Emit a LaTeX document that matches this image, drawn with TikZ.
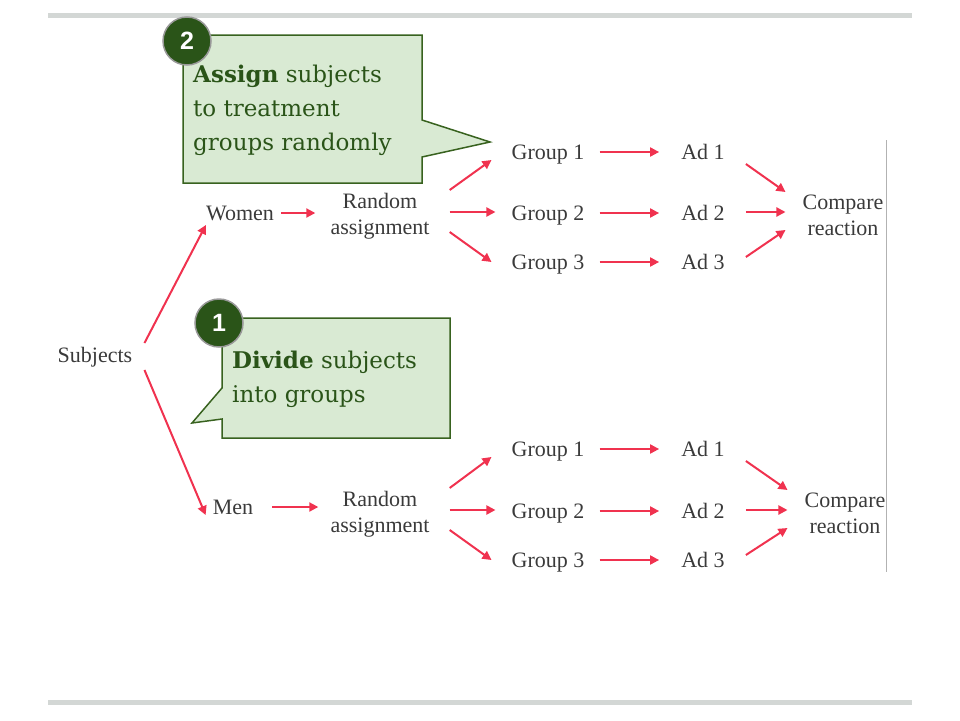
\documentclass[tikz,border=0pt]{standalone}
\usepackage{fontspec}
\setmainfont{Liberation Serif}
\newfontfamily\notefont{DejaVu Serif}
\newfontfamily\badgefont{Liberation Sans}
\usetikzlibrary{arrows.meta}
\definecolor{arrowred}{HTML}{F0324F}
\definecolor{notefill}{HTML}{D9EAD3}
\definecolor{noteline}{HTML}{38621F}
\definecolor{notetext}{HTML}{2A5418}
\definecolor{rulegray}{HTML}{D3D7D5}
\definecolor{labelgray}{HTML}{3A3A3A}
\begin{document}
\begin{tikzpicture}[x=1pt,y=-1pt,
  lbl/.style={inner sep=0pt,text=labelgray,font=\fontsize{22}{26}\selectfont,align=center},
  word/.style={lbl,text height=20pt,text depth=2pt},
  arr/.style={draw=arrowred,line width=2pt,-{Triangle[length=9pt,width=9pt]}},
  note/.style={fill=notefill,draw=noteline,line width=1.5pt},
  notetxt/.style={inner sep=0pt,anchor=north west,align=left,text=notetext,font=\notefont\fontsize{23}{34}\selectfont},
  badge/.style={circle,minimum size=48pt,inner sep=0pt,fill=notetext,draw=gray!80,line width=1.5pt,text=white,font=\badgefont\bfseries\fontsize{25}{25}\selectfont}]
\useasboundingbox (0,0) rectangle (960,720);
\fill[rulegray] (48,13) rectangle (912,18);
\fill[rulegray] (48,700) rectangle (912,705);
\draw[gray!60,line width=1pt] (886,140) -- (886,572);
% labels
\node[word] (subj) at (95,353) {Subjects};
\node[word] (women) at (240,211) {Women};
\node[word] (men) at (233,505) {Men};
\node[lbl] (ra1) at (380,216) {Random\\assignment};
\node[lbl] (ra2) at (380,514) {Random\\assignment};
\foreach \i/\y in {1/150,2/211,3/260} {
  \node[word] (g1\i) at (548,\y) {Group \i};
  \node[word] (a1\i) at (703,\y) {Ad \i};
}
\foreach \i/\y in {1/447,2/509,3/558} {
  \node[word] (g2\i) at (548,\y) {Group \i};
  \node[word] (a2\i) at (703,\y) {Ad \i};
}
\node[lbl] (c1) at (843,215) {Compare\\reaction};
\node[lbl] (c2) at (845,513) {Compare\\reaction};
% arrows
\draw[arr] ([shift={(12,-10)}]subj.east) -- ([shift={(0,14)}]women.west);
\draw[arr] ([shift={(12,17)}]subj.east) -- ([shift={(-7,10)}]men.west);
\draw[arr,shorten <=7pt,shorten >=15pt] ([yshift=-2pt]women.east) -- ([yshift=-2pt]women.east -| ra1.west);
\draw[arr,shorten <=19pt,shorten >=12pt] ([yshift=-2pt]men.east) -- ([yshift=-2pt]men.east -| ra2.west);
\foreach \r in {1,2} {
  \draw[arr] ([shift={(20,-26)}]ra\r.east) -- ([shift={(-20,10)}]g\r1.west);
  \draw[arr] ([shift={(20,-4)}]ra\r.east) -- ([shift={(-16,1)}]g\r2.west);
  \draw[arr] ([shift={(20,16)}]ra\r.east) -- ([shift={(-20,2)}]g\r3.west);
  \foreach \i in {1,2,3}
    \draw[arr,shorten <=15pt,shorten >=22pt] ([yshift=-2pt]g\r\i.east) -- ([yshift=-2pt]a\r\i.west);
  \draw[arr] ([shift={(21,14)}]a\r1.east) -- ([shift={(-17,-23)}]c\r.west);
  \draw[arr] ([shift={(21,1)}]a\r2.east) -- ([shift={(-17,-3)}]c\r.west);
  \draw[arr] ([shift={(21,-3)}]a\r3.east) -- ([shift={(-17,15)}]c\r.west);
}
% callouts
\draw[note] (183,35) -- (422,35) -- (422,120) -- (490,142) -- (422,157) -- (422,183) -- (183,183) -- cycle;
\node[notetxt] (assign) at (193,65) {\textbf{Assign} subjects\\to treatment\\groups randomly};
\node[badge] (b2) at (187,41) {2};
\draw[note] (222,318) -- (450,318) -- (450,438) -- (222,438) -- (222,419) -- (192,423) -- (222,388) -- cycle;
\node[notetxt] (divide) at (232,351) {\textbf{Divide} subjects\\into groups};
\node[badge] (b1) at (219,323) {1};
\end{tikzpicture}
\end{document}
